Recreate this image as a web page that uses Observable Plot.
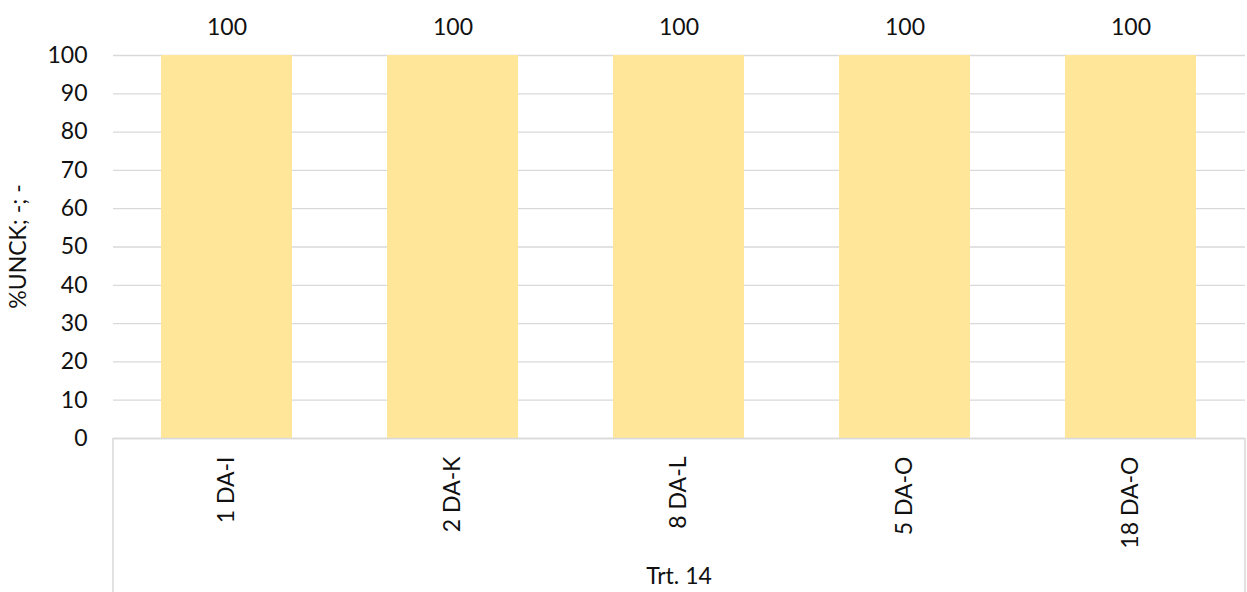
<!DOCTYPE html>
<html><head><meta charset="utf-8">
<script src="https://cdn.jsdelivr.net/npm/d3@7"></script>
<script src="https://cdn.jsdelivr.net/npm/@observablehq/plot@0.6"></script>
<style>
body{margin:0;background:#fff;}
svg{font-family:Lato,"Open Sans",sans-serif;}
</style></head>
<body><div id="chart"></div>
<script>
const categories = ["1 DA-I", "2 DA-K", "8 DA-L", "5 DA-O", "18 DA-O"];
const values = [100, 100, 100, 100, 100];
const yTicks = [0, 10, 20, 30, 40, 50, 60, 70, 80, 90, 100];
const groupLabel = "Trt. 14";
const yLabel = "%UNCK; -; -";

const data = categories.map((c, i) => ({cat: c, value: values[i]}));
const FS = 23;

const plot = Plot.plot({
  width: 1247,
  height: 592,
  marginLeft: 113,
  marginRight: 2,
  marginTop: 55,
  marginBottom: 154,
  style: {fontSize: FS + "px", color: "#000", background: "#fff", fontFamily: "Lato"},
  x: {domain: categories, paddingInner: 0.42, paddingOuter: 0.21, label: null},
  y: {domain: [0, 100], label: null},
  marks: [
    Plot.gridY(yTicks, {stroke: "#d9d9d9", strokeOpacity: 1, strokeWidth: 1.3}),
    Plot.barY(data, {x: "cat", y: "value", fill: "#ffe699"}),
    Plot.ruleY([0], {stroke: "#d9d9d9", strokeWidth: 1.5}),
    Plot.axisY(yTicks, {tickSize: 0, tickPadding: 26, fontSize: FS, fill: "#111"}),
    Plot.axisX({tickSize: 0, tickRotate: -90, tickPadding: 18, fontSize: FS, fill: "#111"}),
    Plot.text(data, {x: "cat", y: "value", text: d => String(d.value), dy: -28, fontSize: FS, fill: "#111"}),
    Plot.text([groupLabel], {x: () => categories[2], frameAnchor: "bottom", dy: 145, fontSize: FS, fill: "#111"})
  ]
});

// category box lines at the edges of the x scale range
const xs = plot.scale("x");
const ys = plot.scale("y");
const svg = d3.select(plot);
const y0 = ys.apply(0);
[xs.range[0], xs.range[1]].forEach(xv => {
  svg.append("line").attr("x1", xv).attr("x2", xv).attr("y1", y0).attr("y2", 592)
    .attr("stroke", "#d9d9d9").attr("stroke-width", 1.5);
});
// y axis title
svg.append("text").text(yLabel)
  .attr("transform", `translate(20,${(ys.range[0] + ys.range[1]) / 2}) rotate(-90)`)
  .attr("text-anchor", "middle").attr("dominant-baseline", "middle")
  .attr("font-size", FS).attr("fill", "#111");

document.getElementById("chart").appendChild(plot);
</script></body></html>
